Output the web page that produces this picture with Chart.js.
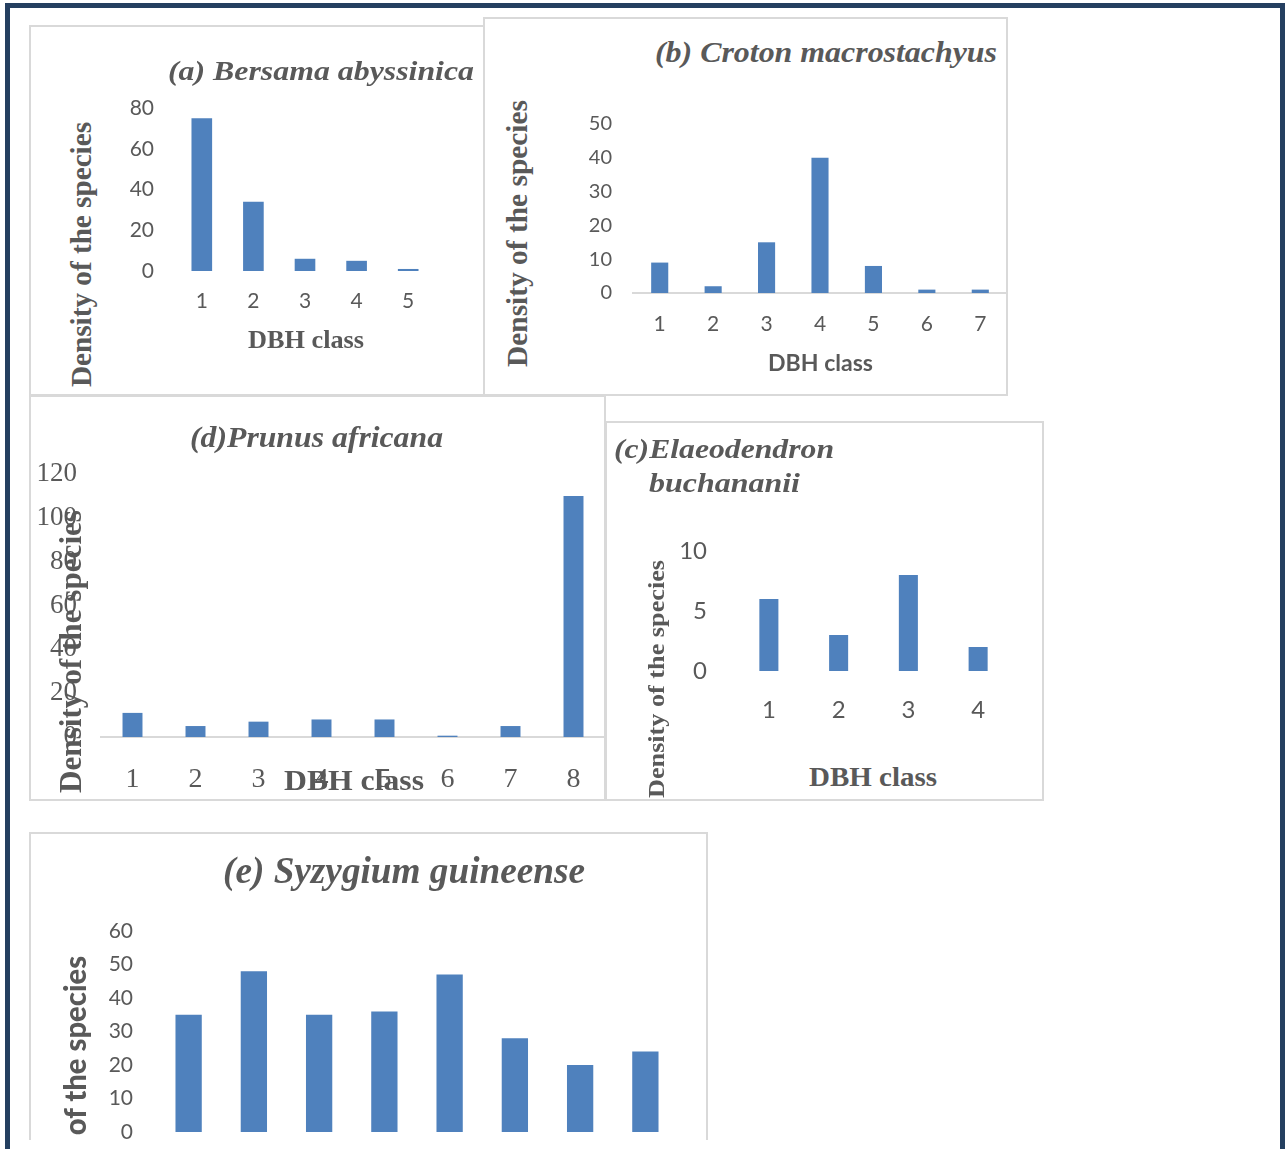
<!DOCTYPE html>
<html><head><meta charset="utf-8">
<script src="https://cdn.jsdelivr.net/npm/chart.js@4.4.1/dist/chart.umd.min.js"></script>
<style>
html,body{margin:0;padding:0;background:#fff;}
body{width:1285px;height:1149px;position:relative;overflow:hidden;}
#stage{position:absolute;left:0;top:0;width:1285px;height:1140px;overflow:hidden;}
.panel{position:absolute;box-sizing:border-box;border:2px solid #d9d9d9;background:#fff;}
.txt{position:absolute;white-space:nowrap;color:#595959;}
canvas{position:absolute;}
#frame{position:absolute;left:5px;top:3px;width:1280px;height:1170px;box-sizing:border-box;border:5px solid #243F60;border-bottom:none;}
</style></head><body>
<div id="stage"></div>
<div id="frame"></div>
<script>
// ---------- data ----------
const labelsA = ['1','2','3','4','5'];
const valuesA = [75, 34, 6, 5, 1];
const labelsB = ['1','2','3','4','5','6','7'];
const valuesB = [9, 2, 15, 40, 8, 1, 1];
const labelsC = ['1','2','3','4'];
const valuesC = [6, 3, 8, 2];
const labelsD = ['1','2','3','4','5','6','7','8'];
const valuesD = [11, 5, 7, 8, 8, 0.6, 5, 110];
const labelsE = ['1','2','3','4','5','6','7','8'];
const valuesE = [35, 48, 35, 36, 47, 28, 20, 24];

const titleA = '(a) Bersama abyssinica';
const titleB = '(b) Croton macrostachyus';
const titleC1 = '(c)Elaeodendron';
const titleC2 = 'buchananii';
const titleD = '(d)Prunus africana';
const titleE = '(e) Syzygium guineense';
const yTitle = 'Density of the species';
const xTitle = 'DBH class';

const yMaxA = 80, yStepA = 20;
const yMaxB = 50, yStepB = 10;
const yMaxC = 10, yStepC = 5;
const yMaxD = 120, yStepD = 20;
const yMaxE = 60, yStepE = 10;

// ---------- styling ----------
const BAR = '#4F81BD';
const GREY = '#595959';
const SERIF = '"Liberation Serif", "Times New Roman", serif';
const SANS = 'Lato, "Open Sans", sans-serif';
const stage = document.getElementById('stage');

function panel(l, t, r, b) {
  const d = document.createElement('div');
  d.className = 'panel';
  d.style.left = l + 'px'; d.style.top = t + 'px';
  d.style.width = (r - l) + 'px'; d.style.height = (b - t) + 'px';
  stage.appendChild(d);
}
panel(29, 25, 485, 396);
panel(483, 17, 1008, 396);
panel(29, 395, 606, 801);
panel(605, 421, 1044, 801);
panel(29, 832, 708, 1160);

function makeChart(c) {
  const W = 70, H = 70, PT = 45, PR = 12;
  const cv = document.createElement('canvas');
  const left = c.L - W, top = c.T - PT;
  const width = c.R - c.L + W + PR, height = c.B - c.T + PT + H;
  cv.width = width; cv.height = height;
  cv.style.left = left + 'px'; cv.style.top = top + 'px';
  cv.style.width = width + 'px'; cv.style.height = height + 'px';
  stage.appendChild(cv);
  new Chart(cv, {
    type: 'bar',
    data: { labels: c.labels, datasets: [{ data: c.values, backgroundColor: BAR, borderWidth: 0,
      barPercentage: c.bar, categoryPercentage: 1 }] },
    options: {
      responsive: false, animation: false, devicePixelRatio: 1,
      plugins: { legend: { display: false }, tooltip: { enabled: false }, title: { display: false } },
      layout: { padding: { top: PT, right: PR, left: 0, bottom: 0 } },
      scales: {
        x: {
          grid: { display: false, drawTicks: false, tickLength: 0 },
          border: { display: c.axisLine, color: '#d9d9d9', width: 2 },
          ticks: { font: c.xFont, color: GREY, padding: c.xPad, maxRotation: 0, autoSkip: false },
          afterFit: s => { s.height = H; }
        },
        y: {
          min: 0, max: c.max,
          grid: { display: false, drawTicks: false, tickLength: 0 },
          border: { display: false },
          ticks: { stepSize: c.step, font: c.yFont, color: GREY, padding: c.yPad },
          afterFit: s => { s.width = W; }
        }
      }
    }
  });
}

makeChart({ labels: labelsA, values: valuesA, max: yMaxA, step: yStepA, L: 176, R: 434, T: 108, B: 271,
  bar: 0.40, axisLine: false, xFont: { family: SANS, size: 21 }, yFont: { family: SANS, size: 21 }, xPad: 18, yPad: 22 });
makeChart({ labels: labelsB, values: valuesB, max: yMaxB, step: yStepB, L: 633, R: 1007, T: 124, B: 293,
  bar: 0.32, axisLine: true, xFont: { family: SANS, size: 21 }, yFont: { family: SANS, size: 20 }, xPad: 19, yPad: 21 });
makeChart({ labels: labelsC, values: valuesC, max: yMaxC, step: yStepC, L: 734, R: 1013, T: 551, B: 671,
  bar: 0.273, axisLine: false, xFont: { family: SANS, size: 24 }, yFont: { family: SANS, size: 24 }, xPad: 25, yPad: 27 });
makeChart({ labels: labelsD, values: valuesD, max: yMaxD, step: yStepD, L: 101, R: 605, T: 474, B: 737,
  bar: 0.317, axisLine: true, xFont: { family: SERIF, size: 28 }, yFont: { family: SERIF, size: 27 }, xPad: 26, yPad: 24 });
makeChart({ labels: labelsE, values: valuesE, max: yMaxE, step: yStepE, L: 156, R: 678, T: 931, B: 1132,
  bar: 0.403, axisLine: false, xFont: { family: SANS, size: 21 }, yFont: { family: SANS, size: 21 }, xPad: 20, yPad: 23 });

// ---------- free text ----------
const mctx = document.createElement('canvas').getContext('2d');
function addText(str, o) {
  const font = `${o.style || 'normal'} ${o.weight || 'normal'} ${o.size}px ${o.family}`;
  mctx.font = font;
  const w = mctx.measureText(str).width;
  const d = document.createElement('div');
  d.className = 'txt'; d.textContent = str;
  d.style.font = font; d.style.lineHeight = o.size + 'px'; d.style.height = o.size + 'px';
  if (!o.rot) {
    const sx = (o.x2 - o.x1) / w;
    d.style.left = o.x1 + 'px'; d.style.top = (o.cy - o.size / 2) + 'px';
    d.style.transformOrigin = '0 50%';
    d.style.transform = `scaleX(${sx})`;
  } else {
    let sx, y2;
    if (o.part) { const wp = mctx.measureText(o.part).width; sx = (o.y2 - o.y1) / wp; y2 = o.y1 + w * sx; }
    else { sx = (o.y2 - o.y1) / w; y2 = o.y2; }
    d.style.left = o.cx + 'px'; d.style.top = y2 + 'px';
    d.style.transformOrigin = '0 0';
    d.style.transform = `rotate(-90deg) scaleX(${sx}) translateY(-50%)`;
  }
  stage.appendChild(d);
}
const TT = { family: SERIF, weight: 'bold', style: 'italic' };
const BS = { family: SERIF, weight: 'bold' };
const BL = { family: SANS, weight: '900' };

addText(titleA, { ...TT, size: 28, x1: 168, x2: 474, cy: 71 });
addText(titleB, { ...TT, size: 30, x1: 655, x2: 997, cy: 52 });
addText(titleD, { ...TT, size: 29, x1: 190, x2: 443, cy: 437 });
addText(titleC1, { ...TT, size: 28, x1: 614, x2: 834, cy: 449 });
addText(titleC2, { ...TT, size: 28, x1: 649, x2: 800, cy: 483 });
addText(titleE, { ...TT, size: 37, x1: 223, x2: 585, cy: 870 });

addText(yTitle, { ...BS, size: 29, rot: true, cx: 81, y1: 122, y2: 387 });
addText(yTitle, { ...BS, size: 29, rot: true, cx: 517, y1: 100, y2: 367 });
addText(yTitle, { ...BS, size: 31, rot: true, cx: 70, y1: 510, y2: 793 });
addText(yTitle, { ...BS, size: 24, rot: true, cx: 656, y1: 560, y2: 798 });
addText(yTitle, { ...BL, size: 31, rot: true, cx: 74, y1: 955, y2: 1135, part: 'of the species' });

addText(xTitle, { ...BS, size: 26, x1: 248, x2: 364, cy: 340 });
addText(xTitle, { ...{ family: SANS, weight: 'bold' }, size: 22, x1: 768, x2: 873, cy: 363 });
addText(xTitle, { ...BS, size: 30, x1: 284, x2: 424, cy: 780 });
addText(xTitle, { ...BS, size: 28, x1: 809, x2: 937, cy: 777 });
</script>
</body></html>
